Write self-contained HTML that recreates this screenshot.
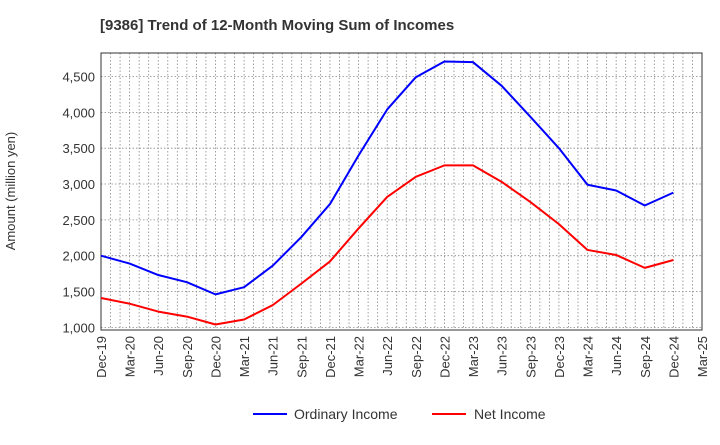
<!DOCTYPE html>
<html><head><meta charset="utf-8"><style>
body{margin:0;background:#fff;font-family:"Liberation Sans",Arial,sans-serif}
svg text{font-family:"Liberation Sans",Arial,sans-serif}
</style></head><body>
<svg id="chart" width="720" height="440" xmlns="http://www.w3.org/2000/svg">
<text x="100" y="30" font-size="15" font-weight="bold" fill="#333">[9386]  Trend of 12-Month Moving Sum of Incomes</text>
<text transform="translate(15,191) rotate(-90)" text-anchor="middle" font-size="13" fill="#333">Amount (million yen)</text>
<g id="grid"></g><g id="axes"></g><g id="series"></g>
<g>
<line x1="253" y1="414" x2="287" y2="414" stroke="#0000ff" stroke-width="2"/>
<text x="294" y="419" font-size="14" fill="#333">Ordinary Income</text>
<line x1="432" y1="414" x2="466" y2="414" stroke="#ff0000" stroke-width="2"/>
<text x="474" y="419" font-size="14" fill="#333">Net Income</text>
</g>
</svg>
<script>
const categories=["Dec-19","Mar-20","Jun-20","Sep-20","Dec-20","Mar-21","Jun-21","Sep-21","Dec-21","Mar-22","Jun-22","Sep-22","Dec-22","Mar-23","Jun-23","Sep-23","Dec-23","Mar-24","Jun-24","Sep-24","Dec-24","Mar-25"];
const ordinaryIncome=[2000,1890,1730,1630,1460,1560,1860,2260,2720,3400,4040,4490,4710,4700,4370,3940,3500,2990,2910,2700,2880];
const netIncome=[1410,1330,1220,1150,1040,1110,1310,1610,1920,2380,2820,3100,3260,3260,3030,2750,2440,2080,2010,1830,1940];
const yTicks=[1000,1500,2000,2500,3000,3500,4000,4500];
const yTickLabels=["1,000","1,500","2,000","2,500","3,000","3,500","4,000","4,500"];
const L=101,R=702,T=53,B=330,yMin=963,yMax=4828;
const NS="http://www.w3.org/2000/svg";
const xs=i=>L+(R-L)*i/(categories.length-1);
const ys=v=>B-(v-yMin)/(yMax-yMin)*(B-T);
function mk(tag,attrs,parent){const e=document.createElementNS(NS,tag);for(const k in attrs)e.setAttribute(k,attrs[k]);parent.appendChild(e);return e;}
const grid=document.getElementById('grid'),axes=document.getElementById('axes'),series=document.getElementById('series');
const months=(categories.length-1)*3;
for(let m=1;m<months;m++){const x=L+(R-L)*m/months;const g=mk('line',{x1:x,y1:T,x2:x,y2:B,stroke:'#888','stroke-width':0.8,'stroke-dasharray':'1.5,2'},grid);

}
yTicks.forEach((v,i)=>{const y=ys(v);const g=mk('line',{x1:L,y1:y,x2:R,y2:y,stroke:'#888','stroke-width':0.8,'stroke-dasharray':'1.5,2'},grid);


const t=mk('text',{x:L-6,y:y+5,'text-anchor':'end','font-size':13,fill:'#333'},axes);t.textContent=yTickLabels[i];

});
const frame=mk('rect',{x:L,y:T,width:R-L,height:B-T,fill:'none',stroke:'#333','stroke-width':1},axes);


categories.forEach((c,i)=>{const x=xs(i);const t=mk('text',{transform:`translate(${x+5},${B+6}) rotate(-90)`,'text-anchor':'end','font-size':13,fill:'#333'},axes);t.textContent=c;

});
function line(data,color,name){const p=mk('polyline',{points:data.map((v,i)=>xs(i)+','+ys(v)).join(' '),fill:'none',stroke:color,'stroke-width':2,'stroke-linejoin':'round'},series);

}
line(ordinaryIncome,'#0000ff','ordinary-income-line');
line(netIncome,'#ff0000','net-income-line');
</script>
</body></html>
